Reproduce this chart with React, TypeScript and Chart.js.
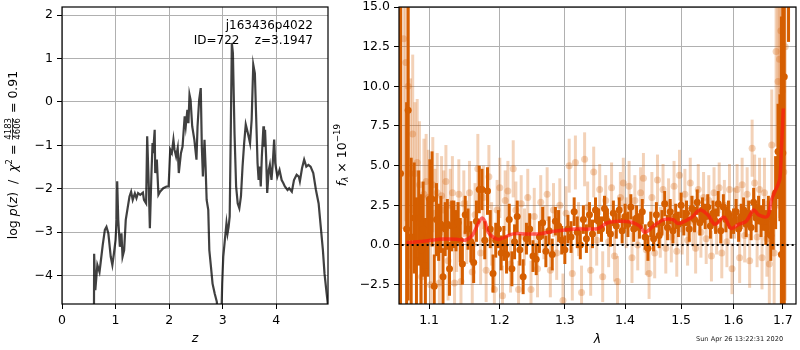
import React, { useEffect, useRef } from "react";
import { Chart, registerables } from "chart.js";
Chart.register(...registerables);

// ---------- Left panel: log p(z) ----------
const pzCurve: [number, number][] = [
  [0.595, -5.5], [0.6, -3.5], [0.622, -4.34], [0.66, -3.76], [0.7, -3.92], [0.72, -3.72], [0.76, -3.3],
  [0.8, -2.95], [0.83, -2.88], [0.865, -3.03], [0.91, -3.57], [0.94, -3.76], [0.97, -3.49], [1.0, -3.18],
  [1.02, -2.72], [1.03, -1.83], [1.05, -2.72], [1.08, -3.34], [1.11, -3.03], [1.13, -3.57], [1.16, -3.42],
  [1.19, -2.72], [1.23, -2.41], [1.26, -2.18], [1.29, -2.07], [1.32, -2.26], [1.36, -2.11], [1.39, -2.22],
  [1.42, -2.1], [1.46, -2.14], [1.51, -2.09], [1.53, -2.26], [1.57, -2.34], [1.59, -0.79], [1.62, -1.95],
  [1.64, -2.91], [1.67, -1.64], [1.69, -0.95], [1.7, -1.18], [1.73, -0.64], [1.74, -1.64], [1.77, -1.33],
  [1.8, -2.14], [1.83, -2.07], [1.89, -1.99], [1.95, -1.95], [1.99, -1.95], [2.02, -1.1], [2.05, -1.18],
  [2.08, -0.87], [2.1, -1.1], [2.13, -1.26], [2.16, -1.06], [2.18, -1.64], [2.22, -1.18], [2.25, -1.03],
  [2.29, -0.33], [2.31, -0.56], [2.34, -0.18], [2.36, -0.49], [2.38, 0.17], [2.4, 0.05], [2.43, -0.56],
  [2.47, -0.87], [2.51, -1.33], [2.53, -0.56], [2.56, 0.05], [2.59, 0.32], [2.61, -1.03], [2.63, -1.72],
  [2.66, -0.87], [2.68, -1.49], [2.7, -2.26], [2.73, -2.49], [2.75, -3.42], [2.78, -3.8], [2.81, -4.19],
  [2.85, -4.42], [2.89, -4.61], [2.92, -5.2], [2.97, -5.2], [2.99, -4.19], [3.01, -3.57], [3.04, -3.18],
  [3.07, -2.8], [3.09, -3.03], [3.11, -2.88], [3.13, -2.64], [3.15, -0.72], [3.17, 1.36], [3.19, 1.13],
  [3.22, -0.72], [3.25, -1.95], [3.28, -2.34], [3.31, -2.45], [3.34, -2.18], [3.37, -1.49], [3.4, -0.95],
  [3.43, -0.52], [3.47, -0.72], [3.51, -0.95], [3.54, -0.41], [3.57, 0.86], [3.6, 0.66], [3.62, -0.18],
  [3.65, -1.41], [3.67, -1.8], [3.69, -1.49], [3.71, -1.95], [3.73, -1.26], [3.76, -0.56], [3.77, -1.03],
  [3.79, -0.64], [3.81, -1.26], [3.83, -2.1], [3.86, -1.57], [3.88, -1.45], [3.91, -1.8], [3.93, -1.49],
  [3.96, -0.87], [3.98, -1.41], [4.02, -1.72], [4.06, -1.57], [4.1, -1.8], [4.13, -1.87], [4.16, -1.95],
  [4.21, -2.03], [4.24, -1.99], [4.29, -2.07], [4.33, -1.8], [4.38, -1.68], [4.42, -1.72], [4.44, -1.83],
  [4.48, -1.53], [4.52, -1.33], [4.56, -1.49], [4.6, -1.45], [4.64, -1.49], [4.69, -1.64], [4.74, -2.03],
  [4.79, -2.34], [4.83, -2.88], [4.87, -3.42], [4.9, -3.96], [4.94, -4.42], [4.97, -4.75],
];
const zTicks = [0, 1, 2, 3, 4];
const logPTicks = [-4, -3, -2, -1, 0, 1, 2];
const objName = "j163436p4022";
const objInfo = "ID=722    z=3.1947";

// ---------- Right panel: spectrum ----------
// [lambda, flux, error]
const darkPoints: [number, number, number][] = [
  [1.062, 4.5, 20], [1.07, 1.0, 8], [1.072, 8.5, 12], [1.076, 0.5, 5], [1.08, 1.7, 3.5], [1.083, -1.0, 4],
  [1.086, 1.7, 3], [1.089, -0.3, 3.5], [1.092, 1.0, 3], [1.095, -1.3, 3], [1.098, 0.5, 2.5], [1.101, 2.9, 2.5],
  [1.104, 2.9, 3], [1.107, -2.6, 2], [1.11, 1.6, 2.3], [1.113, 0.8, 1.8], [1.116, 1.3, 1.8], [1.119, -2.0, 1.8],
  [1.122, 1.0, 1.7], [1.125, 1.3, 1.6], [1.128, -1.5, 1.7], [1.131, 1.2, 1.6], [1.134, 1.3, 1.5], [1.137, 0.9, 1.3],
  [1.14, 1.4, 1.3], [1.143, 0.3, 1.4], [1.146, -1.2, 1.3], [1.15, 1.9, 1.2], [1.154, 1.0, 1.3], [1.158, 0.2, 1.3],
  [1.162, -1.1, 1.3], [1.166, 1.5, 1.3], [1.17, 3.5, 1.5], [1.174, 3.5, 1.3], [1.178, 0.3, 1.2], [1.182, 3.4, 1.5],
  [1.186, 1.0, 1.2], [1.19, -1.8, 1.2], [1.194, 0.3, 1.1], [1.198, 1.0, 1.2], [1.202, -0.5, 1.1], [1.206, 0.1, 1.1],
  [1.21, -0.6, 1.2], [1.214, 1.6, 1.0], [1.218, -1.5, 1.1], [1.222, 0.2, 1.1], [1.226, 1.8, 1.0], [1.23, -0.3, 1.0],
  [1.235, -2.0, 1.1], [1.24, 0.4, 1.0], [1.245, 1.0, 1.0], [1.25, -0.7, 1.0], [1.255, -0.9, 1.0], [1.26, 0.5, 1.0],
  [1.265, 1.4, 1.0], [1.27, -0.4, 1.0], [1.275, 0.9, 0.9], [1.28, -0.6, 1.0], [1.285, 1.5, 0.9], [1.29, 1.2, 1.0],
  [1.295, 0.3, 0.9], [1.3, -0.3, 0.9], [1.305, 1.0, 0.9], [1.31, 0.5, 1.0], [1.315, 2.1, 0.9], [1.32, 0.8, 1.0],
  [1.325, 0.0, 0.9], [1.33, 1.6, 0.9], [1.335, 0.4, 0.9], [1.34, 1.9, 0.8], [1.345, 0.7, 0.9], [1.35, 2.2, 0.8],
  [1.355, 1.5, 0.8], [1.36, 1.0, 0.8], [1.365, 2.3, 0.8], [1.37, 1.5, 0.8], [1.375, 0.7, 0.8], [1.38, 2.0, 0.8],
  [1.385, 1.2, 0.8], [1.39, 2.2, 0.8], [1.395, 0.9, 0.8], [1.4, 1.8, 0.8], [1.405, 1.3, 0.8], [1.41, 2.4, 0.8],
  [1.415, 1.0, 0.8], [1.42, 1.7, 0.8], [1.425, 1.2, 0.8], [1.43, 2.1, 0.8], [1.435, 0.5, 0.8], [1.44, -0.2, 0.8],
  [1.445, 1.3, 0.8], [1.45, 0.4, 0.8], [1.455, 1.9, 0.8], [1.46, 0.6, 0.8], [1.465, 1.4, 0.8], [1.47, 2.6, 0.8],
  [1.475, 1.1, 0.8], [1.48, 2.1, 0.8], [1.485, 0.9, 0.8], [1.49, 1.8, 0.8], [1.495, 1.3, 0.8], [1.5, 2.5, 0.8],
  [1.505, 1.4, 0.8], [1.51, 2.0, 0.8], [1.515, 1.0, 0.8], [1.52, 2.3, 0.8], [1.525, 1.6, 0.8], [1.53, 2.7, 0.8],
  [1.535, 1.4, 0.8], [1.54, 2.2, 0.8], [1.545, 1.8, 0.8], [1.55, 2.4, 0.8], [1.555, 1.2, 0.8], [1.56, 2.0, 0.8],
  [1.565, 1.5, 0.8], [1.57, 2.6, 0.8], [1.575, 0.9, 0.8], [1.58, 2.4, 0.8], [1.585, 1.6, 0.8], [1.59, 2.0, 0.8],
  [1.595, 1.2, 0.8], [1.6, 1.5, 0.8], [1.605, 2.1, 0.8], [1.61, 1.0, 0.8], [1.615, 1.8, 0.8], [1.62, 2.2, 0.8],
  [1.625, 1.3, 0.8], [1.63, 2.0, 0.8], [1.635, 1.1, 0.8], [1.64, 2.7, 0.9], [1.645, 1.7, 0.9], [1.65, 2.2, 0.9],
  [1.655, 1.5, 1.0], [1.66, 1.9, 1.0], [1.665, 1.1, 1.1], [1.67, 1.8, 1.3], [1.675, 0.6, 1.6], [1.68, 1.5, 1.8],
  [1.685, 3.3, 2.3], [1.69, 5.9, 3], [1.694, 5.5, 4], [1.697, -0.6, 15], [1.7, 5.8, 10], [1.703, 10.6, 15],
  [1.712, 17, 4.2],
];
const lightPoints: [number, number, number][] = [
  [1.066, 13.0, 12], [1.069, 11.5, 10], [1.072, 10.0, 8], [1.075, 4.5, 6], [1.078, 7.0, 5], [1.081, 4.5, 4.5],
  [1.084, 5.2, 4], [1.087, 3.8, 4], [1.09, -2.0, 3.5], [1.093, 3.2, 3.5], [1.096, 4.0, 3], [1.099, 3.0, 3],
  [1.102, -2.5, 3], [1.105, 3.8, 3], [1.108, 2.0, 2.8], [1.111, 3.3, 2.5], [1.114, -2.4, 2.5], [1.117, 3.1, 2.5],
  [1.12, 2.2, 2.5], [1.123, 4.0, 2.3], [1.126, -1.0, 2.5], [1.129, 2.5, 2.3], [1.132, 3.3, 2.3], [1.135, -2.4, 2.2],
  [1.138, 0.5, 2.2], [1.141, 3.2, 2.2], [1.144, -2.3, 2.2], [1.148, 2.6, 2.1], [1.152, 0.8, 2.0], [1.156, 3.3, 2.0],
  [1.16, -1.7, 2.0], [1.164, 1.9, 2.0], [1.168, 4.8, 2.2], [1.172, -0.5, 2.0], [1.176, 3.0, 2.0], [1.18, -1.6, 2.0],
  [1.184, 4.3, 2.0], [1.188, 0.7, 2.0], [1.192, -2.8, 2.0], [1.196, 2.2, 1.9], [1.2, 3.6, 1.9], [1.204, -3.2, 1.9],
  [1.208, 2.8, 1.9], [1.212, 3.4, 1.9], [1.216, -1.2, 1.8], [1.22, 4.8, 1.8], [1.224, 2.2, 1.8], [1.228, -2.8, 1.8],
  [1.232, 2.6, 1.8], [1.237, 0.5, 1.8], [1.242, 3.0, 1.8], [1.247, -2.8, 1.8], [1.252, 1.8, 1.8], [1.257, -1.5, 1.8],
  [1.262, 2.7, 1.7], [1.267, 0.8, 1.7], [1.272, 3.2, 1.7], [1.277, -1.6, 1.7], [1.282, 2.2, 1.7], [1.287, -0.5, 1.7],
  [1.292, 2.5, 1.7], [1.297, -3.5, 1.7], [1.302, 2.0, 1.7], [1.307, 5.0, 1.7], [1.312, -1.8, 1.7], [1.317, 5.2, 1.7],
  [1.322, 1.0, 1.7], [1.327, -3.0, 1.7], [1.332, 5.4, 1.7], [1.337, 2.4, 1.6], [1.342, -1.6, 1.6], [1.347, 4.6, 1.6],
  [1.352, 0.3, 1.6], [1.357, 3.5, 1.6], [1.362, -2.0, 1.6], [1.367, 2.8, 1.6], [1.372, 0.2, 1.6], [1.377, 3.6, 1.6],
  [1.382, -0.7, 1.6], [1.387, -2.3, 1.6], [1.392, 3.0, 1.6], [1.397, 3.9, 1.6], [1.402, 1.4, 1.6], [1.407, 3.7, 1.6],
  [1.412, -0.8, 1.6], [1.417, 2.8, 1.6], [1.422, 0.0, 1.6], [1.427, 3.3, 1.6], [1.432, 4.2, 1.6], [1.437, -0.3, 1.6],
  [1.442, -1.8, 1.6], [1.447, 3.0, 1.6], [1.452, -0.5, 1.6], [1.457, 4.1, 1.6], [1.462, 0.8, 1.6], [1.467, 3.5, 1.6],
  [1.472, -0.2, 1.6], [1.477, 2.6, 1.6], [1.482, 0.5, 1.6], [1.487, 3.7, 1.6], [1.492, -0.4, 1.6], [1.497, 4.4, 1.6],
  [1.502, 1.0, 1.6], [1.507, 3.2, 1.6], [1.512, 0.3, 1.6], [1.517, 3.9, 1.6], [1.522, 1.5, 1.6], [1.527, -0.2, 1.6],
  [1.532, 3.5, 1.6], [1.537, 0.8, 1.6], [1.542, 3.0, 1.6], [1.547, 0.4, 1.6], [1.552, 2.8, 1.6], [1.557, -0.7, 1.6],
  [1.562, 3.3, 1.6], [1.567, 1.0, 1.6], [1.572, 3.6, 1.6], [1.577, -0.5, 1.6], [1.582, 2.5, 1.6], [1.587, 0.2, 1.6],
  [1.592, 3.5, 1.6], [1.597, -1.5, 1.6], [1.602, 2.0, 1.6], [1.607, 3.5, 1.6], [1.612, -0.8, 1.6], [1.617, 3.8, 1.7],
  [1.622, 0.6, 1.7], [1.627, 3.2, 1.7], [1.632, -1.0, 1.7], [1.637, 6.1, 1.8], [1.642, 3.9, 1.8], [1.647, 0.5, 1.9],
  [1.652, 3.5, 2.0], [1.657, -0.8, 2.0], [1.662, 3.3, 2.2], [1.667, 0.4, 2.4], [1.672, -1.2, 2.8], [1.677, 6.3, 3.5],
  [1.682, -0.5, 3.5], [1.686, 12.2, 6], [1.69, 10.3, 8], [1.693, 11.7, 10], [1.696, 13.5, 12], [1.699, 9.7, 12],
  [1.702, 4.6, 14], [1.705, 12.5, 16],
];
const modelCurve: [number, number][] = [
  [1.07, 0.15], [1.09, 0.22], [1.1, 0.28], [1.12, 0.38], [1.14, 0.35], [1.15, 0.3], [1.16, 0.6], [1.168, 1.3],
  [1.174, 1.7], [1.178, 1.5], [1.183, 0.8], [1.19, 0.5], [1.198, 0.35], [1.205, 0.45], [1.22, 0.7], [1.24, 0.7],
  [1.26, 0.7], [1.28, 0.85], [1.3, 0.95], [1.32, 1.0], [1.34, 1.0], [1.355, 1.05], [1.37, 1.4], [1.39, 1.5],
  [1.41, 1.45], [1.425, 1.2], [1.435, 0.8], [1.45, 1.2], [1.468, 1.6], [1.485, 1.6], [1.495, 1.35], [1.52, 1.75],
  [1.535, 2.2], [1.55, 1.9], [1.564, 1.3], [1.581, 1.75], [1.595, 1.05], [1.61, 1.3], [1.625, 1.5], [1.64, 2.2],
  [1.65, 1.9], [1.668, 1.8], [1.676, 2.8], [1.684, 3.4], [1.69, 3.8], [1.694, 4.2], [1.697, 6.0], [1.701, 8.6],
];
const lamTicks = [1.1, 1.2, 1.3, 1.4, 1.5, 1.6, 1.7];
const fluxTicks = [-2.5, 0, 2.5, 5, 7.5, 10, 12.5, 15];
const timeStamp = "Sun Apr 26 13:22:31 2020";

// ---------- styling ----------
const FONT = "DejaVu Sans";
const DARK = "rgb(213,94,0)";
const LIGHT = "rgba(213,94,0,0.28)";
const minus = (s: string) => s.replace("-", "\u2212");

type Seg = { t?: string; frac?: [string, string]; f: string; dy?: number };

function drawRich(ctx: CanvasRenderingContext2D, segs: Seg[], cx: number, cy: number, rot: number) {
  ctx.save();
  ctx.translate(cx, cy);
  ctx.rotate(rot);
  ctx.fillStyle = "#000";
  ctx.textBaseline = "alphabetic";
  let w = 0;
  const widths = segs.map((s) => {
    ctx.font = s.f;
    const m = s.frac
      ? Math.max(ctx.measureText(s.frac[0]).width, ctx.measureText(s.frac[1]).width) + 2
      : ctx.measureText(s.t || "").width;
    w += m;
    return m;
  });
  let x = -w / 2;
  const base = 4.5;
  segs.forEach((s, i) => {
    ctx.font = s.f;
    if (s.frac) {
      const mid = x + widths[i] / 2;
      ctx.textAlign = "center";
      ctx.fillText(s.frac[0], mid, base - 5.5);
      ctx.fillText(s.frac[1], mid, base + 3.6);
      ctx.fillRect(x + 1, base - 4.4, widths[i] - 2, 0.8);
    } else {
      ctx.textAlign = "left";
      ctx.fillText(s.t || "", x, base + (s.dy || 0));
    }
    x += widths[i];
  });
  ctx.restore();
}

function axisCommon(ticks: number[], fmt: (v: number) => string, isX: boolean, size: number) {
  return {
    afterBuildTicks: (s: any) => {
      s.ticks = ticks.map((v) => ({ value: v }));
    },
    afterFit: (s: any) => {
      if (isX) s.height = size;
      else s.width = size;
      s.paddingLeft = 0;
      s.paddingRight = 0;
      s.paddingTop = 0;
      s.paddingBottom = 0;
    },
    grid: { color: "#b0b0b0", lineWidth: 1, tickColor: "#000", tickLength: 5, drawTicks: true },
    border: { display: false },
    ticks: {
      font: { family: FONT, size: 12.5 },
      color: "#000",
      padding: 4,
      maxRotation: 0,
      minRotation: 0,
      autoSkip: false,
      callback: (v: any) => fmt(Number(v)),
    },
  };
}

const framePlugin = {
  id: "frame",
  afterDraw(chart: any) {
    const { ctx, chartArea: a } = chart;
    ctx.save();
    ctx.strokeStyle = "#000";
    ctx.lineWidth = 1.2;
    ctx.strokeRect(a.left, a.top, a.right - a.left, a.bottom - a.top);
    ctx.restore();
  },
};

const errorBarPlugin = {
  id: "errbars",
  beforeDatasetDraw(chart: any, args: any) {
    const ds = chart.data.datasets[args.index];
    if (!ds.errs) return;
    const { ctx, chartArea: a } = chart;
    const xs = chart.scales.x;
    const ys = chart.scales.y;
    ctx.save();
    ctx.beginPath();
    ctx.rect(a.left, a.top, a.right - a.left, a.bottom - a.top);
    ctx.clip();
    ctx.strokeStyle = ds.errColor;
    ctx.lineWidth = ds.errWidth;
    ctx.lineCap = "butt";
    ds.data.forEach((p: any, i: number) => {
      const x = xs.getPixelForValue(p.x);
      const y1 = ys.getPixelForValue(p.y - ds.errs[i]);
      const y2 = ys.getPixelForValue(p.y + ds.errs[i]);
      ctx.beginPath();
      ctx.moveTo(x, y1);
      ctx.lineTo(x, y2);
      ctx.stroke();
    });
    ctx.restore();
  },
};

function PzChart() {
  const ref = useRef<HTMLCanvasElement>(null);
  useEffect(() => {
    const textPlugin = {
      id: "pzText",
      afterDraw(chart: any) {
        const ctx = chart.ctx as CanvasRenderingContext2D;
        ctx.save();
        ctx.fillStyle = "#000";
        ctx.font = `12px "${FONT}"`;
        ctx.textAlign = "right";
        ctx.textBaseline = "alphabetic";
        ctx.fillText(objName, 313, 28.5);
        ctx.fillText(objInfo, 313, 44);
        ctx.font = `italic 12.5px "${FONT}"`;
        ctx.textAlign = "center";
        ctx.textBaseline = "middle";
        const a = chart.chartArea;
        ctx.fillText("z", (a.left + a.right) / 2, 339);
        ctx.restore();
        const N = `12.5px "${FONT}"`;
        const I = `italic 12.5px "${FONT}"`;
        const S = `8.5px "${FONT}"`;
        drawRich(
          ctx,
          [
            { t: "log ", f: N },
            { t: "p", f: I },
            { t: "(", f: N },
            { t: "z", f: I },
            { t: ")  /  ", f: N },
            { t: "\u03c7", f: I },
            { t: "2", f: S, dy: -5 },
            { t: " = ", f: N },
            { frac: ["4183", "4606"], f: S },
            { t: " = 0.91", f: N },
          ],
          12,
          155,
          -Math.PI / 2
        );
      },
    };
    const chart = new Chart(ref.current!, {
      type: "line",
      data: {
        datasets: [
          {
            data: pzCurve.map(([x, y]) => ({ x, y })),
            borderColor: "rgba(0,0,0,0.75)",
            borderWidth: 2.2,
            pointRadius: 0,
            tension: 0,
            clip: 0,
          } as any,
        ],
      },
      options: {
        animation: false,
        responsive: false,
        events: [],
        layout: { padding: { left: 0, top: 7, right: 2, bottom: 0 } },
        plugins: { legend: { display: false }, tooltip: { enabled: false } },
        scales: {
          x: {
            type: "linear",
            min: 0,
            max: 4.965,
            bounds: "data",
            ...axisCommon(zTicks, (v) => String(v), true, 46),
          } as any,
          y: {
            type: "linear",
            min: -4.66,
            max: 2.19,
            bounds: "data",
            ...axisCommon(logPTicks, (v) => minus(String(v)), false, 62),
          } as any,
        },
      },
      plugins: [framePlugin, textPlugin],
    });
    return () => chart.destroy();
  }, []);
  return (
    <canvas
      ref={ref}
      width={330}
      height={350}
      style={{ position: "absolute", left: 0, top: 0, width: 330, height: 350 }}
    />
  );
}

function SpecChart() {
  const ref = useRef<HTMLCanvasElement>(null);
  useEffect(() => {
    const textPlugin = {
      id: "specText",
      afterDraw(chart: any) {
        const ctx = chart.ctx as CanvasRenderingContext2D;
        const a = chart.chartArea;
        ctx.save();
        ctx.fillStyle = "#000";
        ctx.font = `italic 12.5px "${FONT}"`;
        ctx.textAlign = "center";
        ctx.textBaseline = "middle";
        ctx.fillText("\u03bb", (a.left + a.right) / 2, 340);
        ctx.font = `6.6px "${FONT}"`;
        ctx.fillStyle = "#222";
        ctx.textAlign = "left";
        ctx.fillText(timeStamp, 366, 339);
        ctx.restore();
        const N = `12.5px "${FONT}"`;
        const I = `italic 12.5px "${FONT}"`;
        const SI = `italic 8.75px "${FONT}"`;
        const S = `8.75px "${FONT}"`;
        drawRich(
          ctx,
          [
            { t: "f", f: I },
            { t: "\u03bb", f: SI, dy: 2.5 },
            { t: " \u00d7 10", f: N },
            { t: "\u221219", f: S, dy: -5.5 },
          ],
          11,
          155,
          -Math.PI / 2
        );
      },
    };
    const chart = new Chart(ref.current!, {
      type: "scatter",
      data: {
        datasets: [
          {
            type: "line",
            data: [
              { x: 1.0, y: 0 },
              { x: 1.8, y: 0 },
            ],
            borderColor: "#000",
            borderWidth: 2.2,
            borderDash: [2, 3],
            pointRadius: 0,
            showLine: true,
            order: 0,
            clip: 0,
          },
          {
            type: "line",
            data: modelCurve.map(([x, y]) => ({ x, y })),
            borderColor: "rgba(255,20,20,0.65)",
            borderWidth: 3.5,
            pointRadius: 0,
            showLine: true,
            tension: 0.35,
            order: 1,
            clip: 0,
          },
          {
            data: darkPoints.map(([x, y]) => ({ x, y })),
            errs: darkPoints.map((p) => p[2]),
            errColor: DARK,
            errWidth: 3,
            backgroundColor: DARK,
            borderWidth: 0,
            pointRadius: 3.5,
            order: 2,
            clip: 0,
          },
          {
            data: lightPoints.map(([x, y]) => ({ x, y })),
            errs: lightPoints.map((p) => p[2]),
            errColor: LIGHT,
            errWidth: 3,
            backgroundColor: LIGHT,
            borderWidth: 0,
            pointRadius: 3.5,
            order: 3,
            clip: 0,
          },
        ] as any,
      },
      options: {
        animation: false,
        responsive: false,
        events: [],
        layout: { padding: { left: 0, top: 7, right: 1, bottom: 0 } },
        plugins: { legend: { display: false }, tooltip: { enabled: false } },
        scales: {
          x: {
            type: "logarithmic",
            min: 1.06,
            max: 1.7278,
            bounds: "data",
            ...axisCommon(lamTicks, (v) => v.toFixed(1), true, 46),
          } as any,
          y: {
            type: "linear",
            min: -3.72,
            max: 15,
            bounds: "data",
            ...axisCommon(fluxTicks, (v) => minus(v.toFixed(1)), false, 69),
          } as any,
        },
      },
      plugins: [errorBarPlugin, framePlugin, textPlugin],
    });
    return () => chart.destroy();
  }, []);
  return (
    <canvas
      ref={ref}
      width={470}
      height={350}
      style={{ position: "absolute", left: 330, top: 0, width: 470, height: 350 }}
    />
  );
}

export default function App() {
  return (
    <div
      style={{
        position: "fixed",
        left: 0,
        top: 0,
        width: 800,
        height: 350,
        background: "#fff",
        overflow: "hidden",
      }}
    >
      <PzChart />
      <SpecChart />
    </div>
  );
}
